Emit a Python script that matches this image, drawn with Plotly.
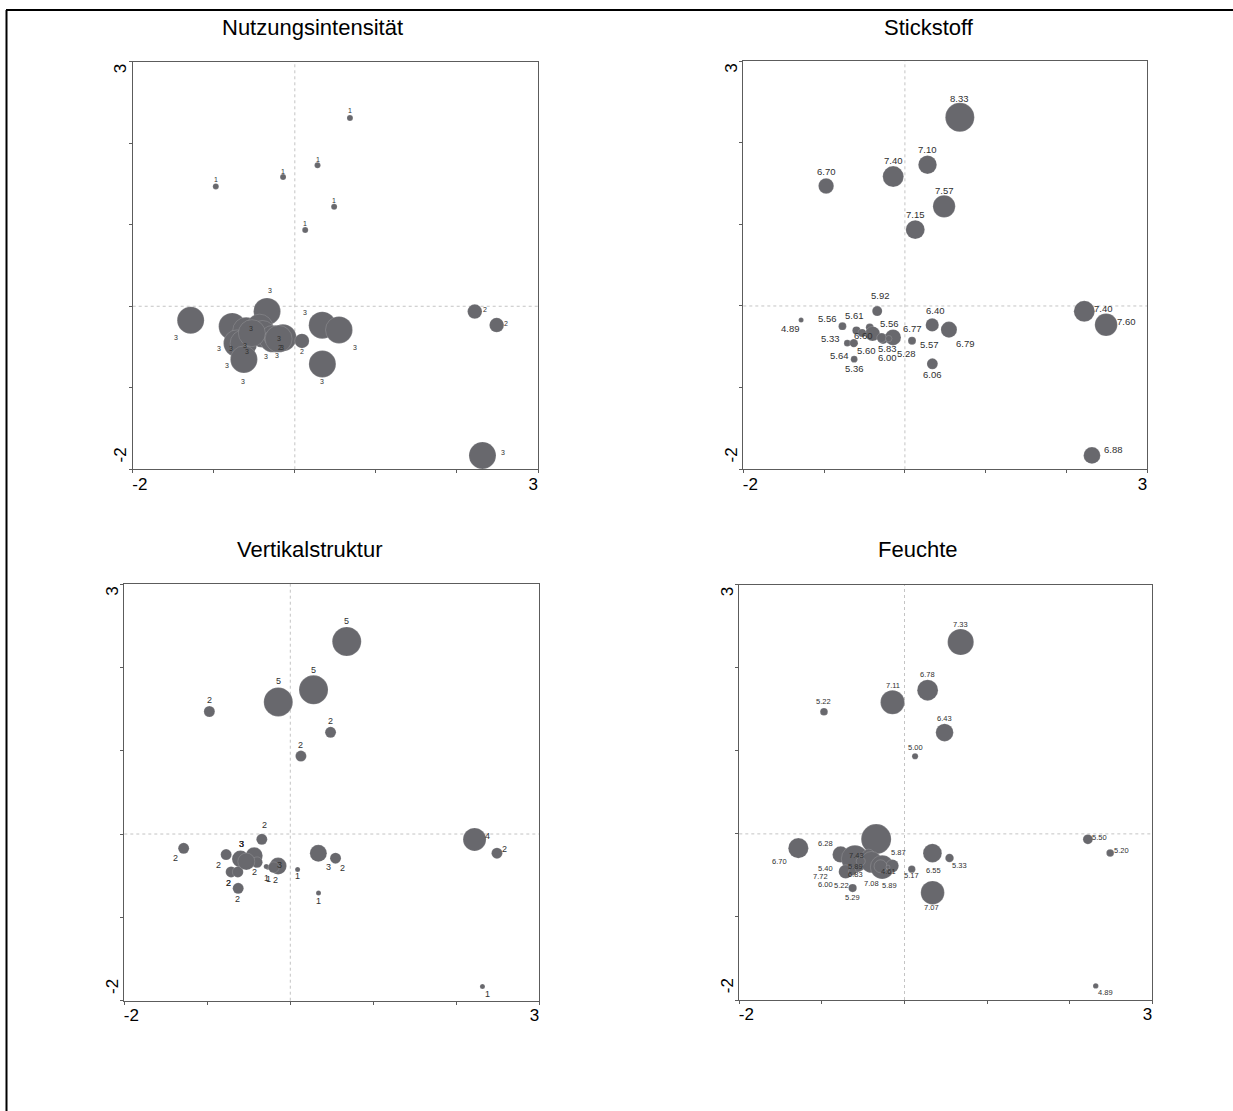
import plotly.graph_objects as go

# ---------------- data ----------------
# site scores on ordination axes 1 / 2 (same sites in every panel)
site_x = [0.68, 0.28, -0.145, -0.975, 0.485, 0.128, 2.22, 2.49, 2.315,
          -0.343, -1.285, -0.773, -0.60, -0.435, -0.40, -0.27, -0.147,
          -0.713, -0.632, -0.628, 0.088, 0.338, 0.545, 0.34, -0.29, -0.53, -0.20]
site_y = [2.31, 1.73, 1.585, 1.47, 1.22, 0.935, -0.065, -0.23, -1.83,
          -0.063, -0.172, -0.247, -0.30, -0.262, -0.34, -0.40, -0.385,
          -0.455, -0.455, -0.652, -0.425, -0.232, -0.29, -0.708, -0.39, -0.33, -0.40]

nutzung = [1, 1, 1, 1, 1, 1, 2, 2, 3, 3, 3, 3, 3, 3, 3, 3, 3, 3, 3, 3, 2, 3, 3, 3, 2, 3, 3]
stickstoff = [8.33, 7.10, 7.40, 6.70, 7.57, 7.15, 7.40, 7.60, 6.88, 5.92, 4.89, 5.56, 5.61,
              5.56, 6.60, 6.00, 6.77, 5.33, 5.64, 5.36, 5.57, 6.40, 6.79, 6.06, 5.83, 5.60, 5.28]
vertikal = [5, 5, 5, 2, 2, 2, 4, 2, 1, 2, 2, 2, 3, 3, 2, 1, 3, 2, 2, 2, 1, 3, 2, 1, 1, 3, 2]
feuchte = [7.33, 6.78, 7.11, 5.22, 6.43, 5.00, 5.50, 5.20, 4.89, 7.72, 6.70, 6.28, 7.43,
           5.89, 6.83, 7.08, 5.87, 6.00, 5.22, 5.29, 5.17, 6.55, 5.33, 7.07, 5.89, 5.40, 4.61]

titles = ["Nutzungsintensität", "Stickstoff", "Vertikalstruktur", "Feuchte"]
axis_ticks = [-2, -1, 0, 1, 2, 3]

# ---------------- style ----------------
# label offsets in pixels (dx, dy up) per panel
off1 = [(0, 7), (0, 6), (0, 6), (0, 7), (0, 6), (0, 7), (10, 2), (9, 2), (21, 3), (3, 21),
        (-15, -17), (-13, -22), (5, 2), (-33, -38), (4, -23), (4, -17), (-1, -10), (-6, -5),
        (1, -2), (-1, -22), (0, -11), (-17, 13), (16, -18), (0, -18), (9, -9), (-5, -18), (0, 0)]
off2 = [(0, 19), (0, 15), (0, 16), (0, 14), (0, 16), (0, 15), (19, 3), (20, 3), (22, 6), (3, 16),
        (-11, -8), (-15, 8), (-2, 15), (20, 4), (-9, -2), (4, -19), (19, 9), (-17, 5),
        (-14, -12), (0, -9), (17, -4), (3, 14), (17, -14), (0, -11), (6, -11), (4, -18), (18, -15)]
off3 = [(0, 21), (0, 20), (0, 21), (0, 12), (0, 11), (0, 11), (13, 3), (8, 4), (5, -7), (3, 14),
        (-8, -10), (-8, -10), (1, 15), (-13, 12), (-3, -10), (-1, -11), (1, 1), (-3, -11),
        (-9, -11), (-1, -11), (0, -7), (10, -14), (7, -10), (0, -8), (2, -12), (-5, 18), (2, -13)]
off4 = [(0, 18), (0, 16), (0, 17), (0, 10), (0, 14), (0, 9), (12, 2), (11, 2), (10, -7), (-56, -37),
        (-19, -13), (-15, 11), (2, 3), (-13, -11), (-16, -12), (-11, -16), (6, 13), (-20, -13),
        (-11, -14), (0, -9), (0, -6), (1, -17), (10, -8), (-1, -15), (9, -19), (-35, -7), (1, -4)]

W, H = 1233, 1111
# panel boxes in pixels: (left, right, top, bottom)
boxes = [(132.7, 538.0, 61.7, 469.3), (743.3, 1147.3, 61.0, 469.3),
         (124.3, 539.3, 584.0, 1000.7), (739.3, 1152.3, 584.7, 1000.0)]
title_pos = [(312, 28), (929, 28), (310, 549), (918, 549)]

panels = [
    dict(vals=nutzung, fmt="{:d}", off=off1, dmin=6, dmax=27, ex=1.3, fs=7),
    dict(vals=stickstoff, fmt="{:.2f}", off=off2, dmin=5, dmax=29, ex=1.3, fs=9.5),
    dict(vals=vertikal, fmt="{:d}", off=off3, dmin=5, dmax=29, ex=1.0, fs=9),
    dict(vals=feuchte, fmt="{:.2f}", off=off4, dmin=4, dmax=30, ex=1.2, fs=7.5),
]

BUBBLE = "#68686d"
FONT = "Liberation Sans, Arial, sans-serif"
NB = "\u00a0"

fig = go.Figure()
annotations = []
shapes = []
layout_axes = {}

for i, p in enumerate(panels):
    n = i + 1
    xa = "x" if n == 1 else f"x{n}"
    ya = "y" if n == 1 else f"y{n}"
    vals = p["vals"]
    vmin, vmax = min(vals), max(vals)
    sizes = [p["dmin"] + ((v - vmin) / (vmax - vmin)) ** p["ex"] * (p["dmax"] - p["dmin"]) for v in vals]
    fig.add_trace(go.Scatter(
        x=site_x, y=site_y, mode="markers", xaxis=xa, yaxis=ya,
        marker=dict(size=sizes, color=BUBBLE, opacity=1,
                    line=dict(width=0.5, color="rgba(255,255,255,0.3)")),
        showlegend=False, hoverinfo="skip"))
    for k in range(len(vals)):
        dx, dy = p["off"][k]
        annotations.append(dict(
            x=site_x[k], y=site_y[k], xref=xa, yref=ya, text=p["fmt"].format(vals[k]),
            showarrow=False, xshift=dx, yshift=dy, xanchor="center", yanchor="middle",
            font=dict(family=FONT, size=p["fs"], color="#303030")))

    l, r, t, b = boxes[i]
    xdom = [l / W, r / W]
    ydom = [1 - b / H, 1 - t / H]
    common = dict(range=[-2, 3], tickmode="array", tickvals=axis_ticks,
                  showline=True, mirror=True, linecolor="#5c5c5c", linewidth=1,
                  ticks="outside", ticklen=3, tickcolor="#5c5c5c", tickwidth=1,
                  ticklabelstandoff=-4,
                  showgrid=False, zeroline=False, fixedrange=True, automargin=False,
                  tickfont=dict(family=FONT, size=17, color="#000000"))
    xlab = [NB * 3 + str(axis_ticks[0])] + [""] * 4 + [str(axis_ticks[-1]) + NB * 2]
    ylab = [NB * 5 + str(axis_ticks[0])] + [""] * 4 + [str(axis_ticks[-1]) + NB * 4]
    layout_axes["xaxis" if n == 1 else f"xaxis{n}"] = dict(
        common, domain=xdom, anchor=ya, ticktext=xlab)
    layout_axes["yaxis" if n == 1 else f"yaxis{n}"] = dict(
        common, domain=ydom, anchor=xa, ticktext=ylab, tickangle=-90)

    # dotted reference lines through the origin
    shapes.append(dict(type="line", xref=xa, yref=f"{ya} domain", x0=0, x1=0, y0=0, y1=1,
                       line=dict(color="#c4c4c4", width=1, dash="dot"), layer="below"))
    shapes.append(dict(type="line", xref=f"{xa} domain", yref=ya, x0=0, x1=1, y0=0, y1=0,
                       line=dict(color="#c4c4c4", width=1, dash="dot"), layer="below"))

    tx, ty = title_pos[i]
    annotations.append(dict(x=tx / W, y=1 - ty / H, xref="paper", yref="paper", text=titles[i],
                            showarrow=False, xanchor="center", yanchor="middle",
                            font=dict(family=FONT, size=22, color="#000000")))

# outer frame (top and left edges)
shapes.append(dict(type="line", xref="paper", yref="paper", x0=6 / W, x1=1, y0=1 - 10 / H, y1=1 - 10 / H,
                   line=dict(color="#000000", width=2)))
shapes.append(dict(type="line", xref="paper", yref="paper", x0=6.5 / W, x1=6.5 / W, y0=0, y1=1 - 10 / H,
                   line=dict(color="#000000", width=2)))

fig.update_layout(
    template="none",
    width=W, height=H, margin=dict(l=0, r=0, t=0, b=0, pad=0, autoexpand=False),
    paper_bgcolor="white", plot_bgcolor="white",
    annotations=annotations, shapes=shapes, **layout_axes)

fig.write_html("out.html", config={"displayModeBar": False},
               post_script="document.body.style.margin='0';document.body.style.overflow='hidden';")
